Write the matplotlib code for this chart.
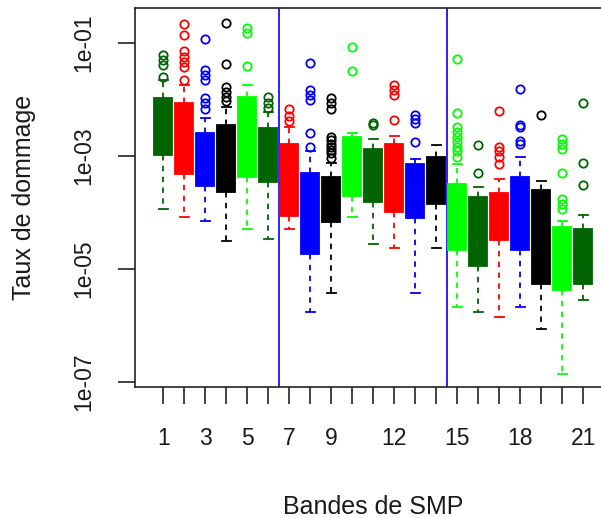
import matplotlib
matplotlib.use("Agg")
import matplotlib.pyplot as plt
import numpy as np

plt.rcParams["font.family"] = ["Liberation Sans", "DejaVu Sans"]

# Damage rate per SMP band, given as log10 values
bands = list(range(1, 22))
box_colors = ["#006400", "#FF0000", "#0000FF", "#000000", "#00FF00"]

whislo_log = [-3.94, -4.08, -4.15, -4.50, -4.30, -4.47, -4.30, -5.76, -5.43, -4.08, -4.55,
              -4.62, -5.43, -4.62, -5.68, -5.76, -5.85, -5.68, -6.07, -6.85, -5.54]
q1_log = [-2.99, -3.32, -3.53, -3.64, -3.38, -3.46, -4.06, -4.73, -4.16, -3.71, -3.81,
          -3.99, -4.10, -3.85, -4.66, -4.95, -4.49, -4.66, -5.27, -5.37, -5.27]
med_log = [-2.50, -2.70, -3.05, -3.05, -2.65, -3.00, -3.40, -4.00, -3.75, -3.20, -3.35,
           -3.40, -3.60, -3.45, -4.10, -4.30, -4.05, -4.00, -4.45, -4.80, -4.80]
q3_log = [-1.98, -2.06, -2.59, -2.45, -1.95, -2.51, -2.79, -3.30, -3.37, -2.66, -2.87,
          -2.79, -3.15, -3.01, -3.50, -3.72, -3.65, -3.37, -3.61, -4.25, -4.29]
whishi_log = [-1.65, -1.74, -2.33, -2.14, -1.74, -2.23, -2.48, -2.92, -3.13, -2.60, -2.70,
              -2.65, -3.06, -2.81, -3.15, -3.55, -3.41, -3.01, -3.45, -4.15, -4.04]
outliers_log = [
    [-1.21, -1.30, -1.39, -1.60],
    [-0.66, -0.86, -1.15, -1.24, -1.33, -1.42, -1.65],
    [-0.93, -1.48, -1.57, -1.65, -1.98, -2.07, -2.16],
    [-0.65, -1.37, -1.78, -1.86, -1.95, -2.02],
    [-0.74, -0.83, -1.40],
    [-1.96, -2.06, -2.15],
    [-2.16, -2.30, -2.38],
    [-1.35, -1.83, -1.92, -2.01, -2.60, -2.84],
    [-1.98, -2.07, -2.16, -2.66, -2.72, -2.78, -2.84, -2.89, -2.95, -3.04],
    [-1.07, -1.50],
    [-2.41, -2.45],
    [-1.74, -1.83, -1.92, -2.36],
    [-2.27, -2.35, -2.42, -2.76],
    [],
    [-1.29, -2.24, -2.48, -2.57, -2.66, -2.75, -2.84, -2.92, -3.01],
    [-2.81, -3.31],
    [-2.20, -2.84, -2.92, -3.01, -3.14],
    [-1.82, -2.45, -2.49, -2.73, -2.78],
    [-2.27],
    [-2.70, -2.79, -2.88, -3.31, -3.77, -3.85, -3.94],
    [-2.06, -3.13, -3.51],
]
group_breaks = [6.5, 14.5]
y_ticks_log = [-1, -3, -5, -7]
x_tick_labels = {1: "1", 3: "3", 5: "5", 7: "7", 9: "9", 12: "12", 15: "15", 18: "18", 21: "21"}

stats = []
for i in range(len(bands)):
    stats.append(dict(
        whislo=10 ** whislo_log[i], q1=10 ** q1_log[i], med=10 ** med_log[i],
        q3=10 ** q3_log[i], whishi=10 ** whishi_log[i],
        fliers=10 ** np.array(outliers_log[i]) if outliers_log[i] else np.array([]),
    ))

fig = plt.figure(figsize=(6.01, 5.18), dpi=100)
ax = fig.add_axes([0.225, 0.2529, 0.7925, 0.7317])
ax.set_yscale("log")

art = ax.bxp(stats, positions=bands, widths=0.85, capwidths=0.42, patch_artist=True,
             showfliers=True, manage_ticks=False)

lw = 1.3
for i in range(len(bands)):
    c = box_colors[i % len(box_colors)]
    art["boxes"][i].set(facecolor=c, edgecolor=c, linewidth=lw, zorder=3)
    art["medians"][i].set(color=c, linewidth=lw, zorder=4)
    for w in art["whiskers"][2 * i:2 * i + 2]:
        w.set(color=c, linewidth=lw, linestyle=(0, (3, 3)), zorder=2)
    for cap in art["caps"][2 * i:2 * i + 2]:
        cap.set(color=c, linewidth=lw, zorder=2)
    fl = art["fliers"][i]
    fl.set(marker="o", markerfacecolor="none", markeredgecolor=c,
           markersize=6.0, markeredgewidth=1.3, linestyle="none")

for xb in group_breaks:
    ax.axvline(xb, color="#0000FF", linewidth=1.2, zorder=1)

ax.set_xlim(-0.34, 22.34)
ax.set_ylim(10 ** -7.088, 10 ** -0.381)

ax.set_xticks(bands)
ax.set_xticklabels([x_tick_labels.get(b, "") for b in bands])
ax.set_yticks([10.0 ** v for v in y_ticks_log])
ax.set_yticklabels(["1e-%02d" % (-v) for v in y_ticks_log], rotation=90, va="center")
ax.yaxis.set_minor_locator(matplotlib.ticker.NullLocator())

ax.tick_params(axis="both", which="major", length=12, width=1.2, color="#222222",
               labelsize=16.5, labelcolor="#1a1a1a")
ax.tick_params(axis="x", pad=17)
ax.tick_params(axis="y", pad=17)

for s in ax.spines.values():
    s.set_linewidth(1.2)
    s.set_color("#222222")

ax.set_xlabel("Bandes de SMP", fontsize=18, color="#1a1a1a", labelpad=32)
ax.set_ylabel("Taux de dommage", fontsize=18, color="#1a1a1a", labelpad=26)

fig.savefig("out.png", dpi=100)
